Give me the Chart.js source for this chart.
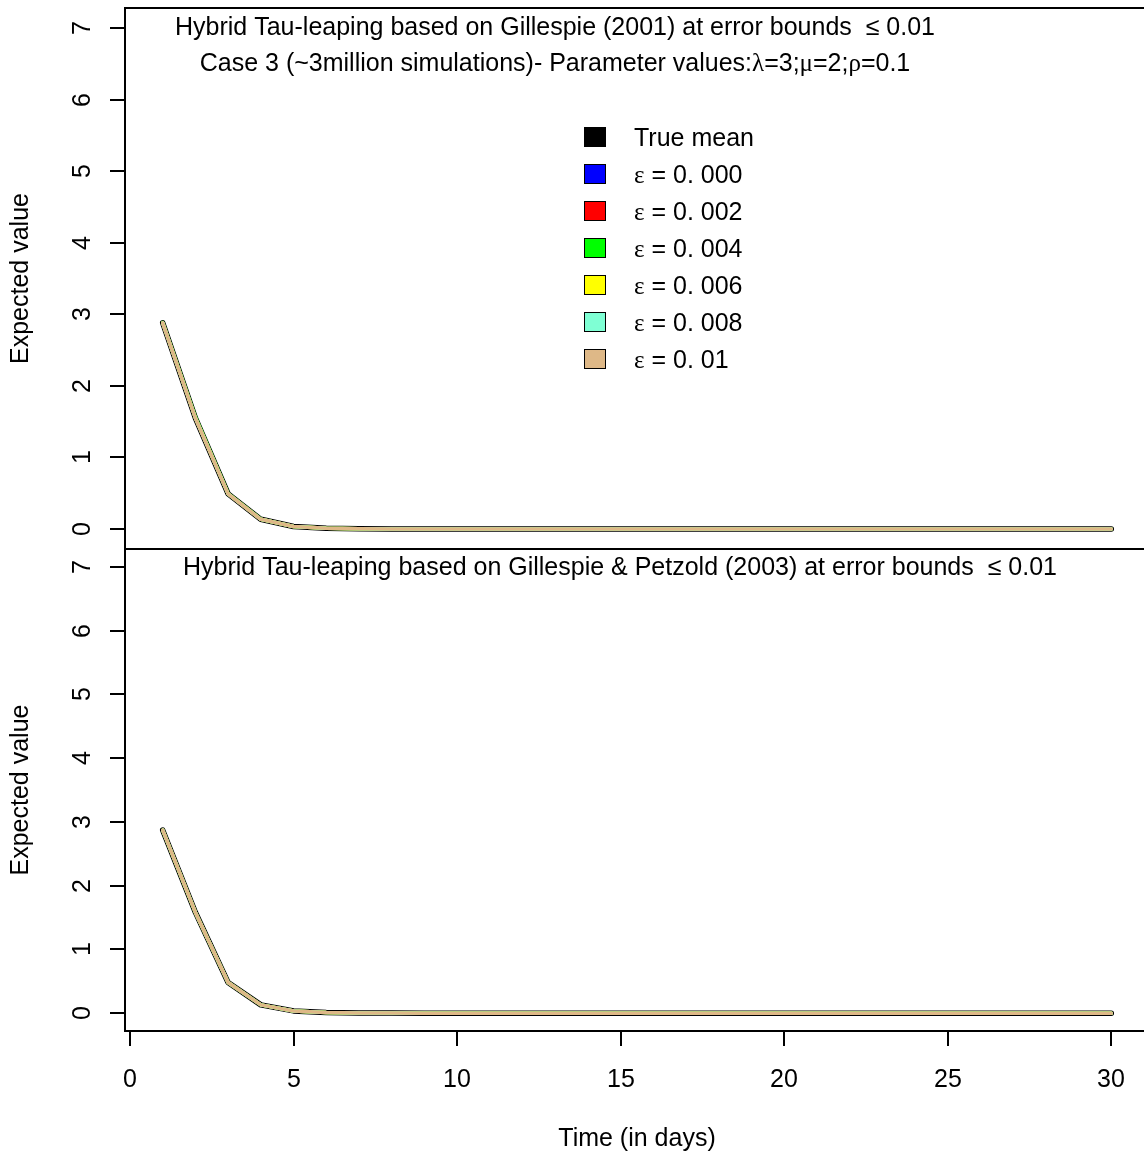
<!DOCTYPE html>
<html>
<head>
<meta charset="utf-8">
<script src="https://cdn.jsdelivr.net/npm/chart.js@4.4.0/dist/chart.umd.min.js"></script>
<style>
body { margin: 0; background: #fff; }
#wrap { position: relative; width: 1144px; height: 1155px; }
canvas { position: absolute; left: 0; }
</style>
</head>
<body>
<div id="wrap">
  <canvas id="topChart" width="1144" height="550" style="top:0px"></canvas>
  <canvas id="bottomChart" width="1144" height="606" style="top:549px"></canvas>
</div>
<script>
// time axis (days)
var days = [1,2,3,4,5,6,7,8,9,10,11,12,13,14,15,16,17,18,19,20,21,22,23,24,25,26,27,28,29,30];
var xTicks = [0,5,10,15,20,25,30];
var yTicks = [0,1,2,3,4,5,6,7];

var seriesNames = ["True mean","ε = 0. 000","ε = 0. 002","ε = 0. 004","ε = 0. 006","ε = 0. 008","ε = 0. 01"];
var seriesColors = ["#000000","#0000FF","#FF0000","#00FF00","#FFFF00","#7FFFD4","#DEB887"];

// Gillespie (2001) panel
var g01_true = [2.88,1.55,0.49,0.135,0.035,0.009,0.002,0.0005,0.0001,0,0,0,0,0,0,0,0,0,0,0,0,0,0,0,0,0,0,0,0,0];
var g01_e000 = [2.88,1.55,0.49,0.135,0.035,0.009,0.002,0.0005,0.0001,0,0,0,0,0,0,0,0,0,0,0,0,0,0,0,0,0,0,0,0,0];
var g01_e002 = [2.88,1.55,0.49,0.135,0.035,0.009,0.002,0.0005,0.0001,0,0,0,0,0,0,0,0,0,0,0,0,0,0,0,0,0,0,0,0,0];
var g01_e004 = [2.885,1.565,0.495,0.136,0.035,0.009,0.002,0.0005,0.0001,0,0,0,0,0,0,0,0,0,0,0,0,0,0,0,0,0,0,0,0,0];
var g01_e006 = [2.88,1.55,0.49,0.135,0.035,0.009,0.002,0.0005,0.0001,0,0,0,0,0,0,0,0,0,0,0,0,0,0,0,0,0,0,0,0,0];
var g01_e008 = [2.88,1.55,0.49,0.135,0.035,0.009,0.002,0.0005,0.0001,0,0,0,0,0,0,0,0,0,0,0,0,0,0,0,0,0,0,0,0,0];
var g01_e010 = [2.88,1.55,0.49,0.135,0.035,0.009,0.002,0.0005,0.0001,0,0,0,0,0,0,0,0,0,0,0,0,0,0,0,0,0,0,0,0,0];

// Gillespie & Petzold (2003) panel
var g03_true = [2.87,1.58,0.48,0.13,0.035,0.01,0.003,0.0008,0.0002,0,0,0,0,0,0,0,0,0,0,0,0,0,0,0,0,0,0,0,0,0];
var g03_e000 = [2.87,1.58,0.48,0.13,0.035,0.01,0.003,0.0008,0.0002,0,0,0,0,0,0,0,0,0,0,0,0,0,0,0,0,0,0,0,0,0];
var g03_e002 = [2.87,1.58,0.48,0.13,0.035,0.01,0.003,0.0008,0.0002,0,0,0,0,0,0,0,0,0,0,0,0,0,0,0,0,0,0,0,0,0];
var g03_e004 = [2.87,1.58,0.48,0.13,0.035,0.01,0.003,0.0008,0.0002,0,0,0,0,0,0,0,0,0,0,0,0,0,0,0,0,0,0,0,0,0];
var g03_e006 = [2.87,1.58,0.48,0.13,0.035,0.01,0.003,0.0008,0.0002,0,0,0,0,0,0,0,0,0,0,0,0,0,0,0,0,0,0,0,0,0];
var g03_e008 = [2.87,1.58,0.48,0.13,0.035,0.01,0.003,0.0008,0.0002,0,0,0,0,0,0,0,0,0,0,0,0,0,0,0,0,0,0,0,0,0];
var g03_e010 = [2.87,1.58,0.48,0.13,0.035,0.01,0.003,0.0008,0.0002,0,0,0,0,0,0,0,0,0,0,0,0,0,0,0,0,0,0,0,0,0];

var SANS = '"Liberation Sans", Arial, sans-serif';
var SERIF = '"Liberation Serif", "DejaVu Serif", serif';

// draw text where greek letters use a serif face (like R's symbol font)
function drawMixed(ctx, text, x, y, align, size) {
  var parts = [];
  for (var i = 0; i < text.length; i++) {
    var ch = text[i];
    var greek = /[\u0370-\u03FF]/.test(ch);
    if (parts.length && parts[parts.length - 1].greek === greek) parts[parts.length - 1].t += ch;
    else parts.push({t: ch, greek: greek});
  }
  var total = 0;
  parts.forEach(function(p) {
    ctx.font = size + 'px ' + (p.greek ? SERIF : SANS);
    p.w = ctx.measureText(p.t).width;
    total += p.w;
  });
  var cx = align === 'center' ? x - total / 2 : x;
  ctx.textAlign = 'left';
  ctx.textBaseline = 'middle';
  parts.forEach(function(p) {
    ctx.font = size + 'px ' + (p.greek ? SERIF : SANS);
    ctx.fillText(p.t, cx, y);
    cx += p.w;
  });
}

var rPlot = {
  id: 'rPlot',
  afterDraw: function(chart, args, opts) {
    var ctx = chart.ctx, a = chart.chartArea;
    var xs = chart.scales.x, ys = chart.scales.y;
    ctx.save();
    ctx.strokeStyle = '#000';
    ctx.fillStyle = '#000';
    ctx.lineWidth = 2;
    ctx.strokeRect(a.left, a.top, a.right - a.left + 10, a.bottom - a.top);

    // y axis
    ctx.font = '25px ' + SANS;
    yTicks.forEach(function(v) {
      var py = Math.round(ys.getPixelForValue(v));
      ctx.beginPath(); ctx.moveTo(a.left - 15, py); ctx.lineTo(a.left, py); ctx.stroke();
      ctx.save();
      ctx.translate(83, py);
      ctx.rotate(-Math.PI / 2);
      ctx.textAlign = 'center'; ctx.textBaseline = 'middle';
      ctx.fillText(String(v), 0, 0);
      ctx.restore();
    });
    ctx.save();
    ctx.translate(21, (a.top + a.bottom) / 2);
    ctx.rotate(-Math.PI / 2);
    ctx.textAlign = 'center'; ctx.textBaseline = 'middle';
    ctx.fillText('Expected value', 0, 0);
    ctx.restore();

    // x axis only under the lower panel
    if (opts.xAxis) {
      ctx.beginPath();
      ctx.moveTo(xs.getPixelForValue(0), a.bottom); ctx.lineTo(xs.getPixelForValue(30), a.bottom); ctx.stroke();
      xTicks.forEach(function(v) {
        var px = Math.round(xs.getPixelForValue(v));
        ctx.beginPath(); ctx.moveTo(px, a.bottom); ctx.lineTo(px, a.bottom + 15); ctx.stroke();
        ctx.textAlign = 'center'; ctx.textBaseline = 'middle';
        ctx.fillText(String(v), px, a.bottom + 49);
      });
      ctx.fillText('Time (in days)', 637, a.bottom + 108);
    }

    // titles
    opts.titles.forEach(function(t) {
      drawMixed(ctx, t.text, t.x, t.y, 'center', 25);
    });

    // legend
    if (opts.legend) {
      chart.data.datasets.forEach(function(ds, i) {
        var cy = 137 + 37 * i;
        ctx.fillStyle = ds.borderColor;
        ctx.fillRect(584, cy - 10, 22, 20);
        ctx.lineWidth = 1;
        ctx.strokeStyle = '#000';
        ctx.strokeRect(584.5, cy - 9.5, 21, 19);
        ctx.fillStyle = '#000';
        drawMixed(ctx, ds.label, 634, cy + 2, 'left', 25);
      });
    }
    ctx.restore();
  }
};

function makeChart(id, seriesList, pad, opts) {
  var datasets = seriesList.map(function(vals, i) {
    return {
      label: seriesNames[i],
      data: days.map(function(d, k) { return {x: d, y: vals[k]}; }),
      borderColor: seriesColors[i],
      backgroundColor: seriesColors[i],
      borderWidth: i === 0 ? 5.5 : 3.5,
      borderCapStyle: 'round',
      borderJoinStyle: 'round',
      pointRadius: 0,
      tension: 0,
      fill: false,
      order: seriesList.length - i
    };
  });
  return new Chart(document.getElementById(id).getContext('2d'), {
    type: 'line',
    data: {datasets: datasets},
    options: {
      responsive: false,
      animation: false,
      layout: {padding: pad},
      scales: {
        x: {type: 'linear', min: -0.153, max: 31.0, display: false},
        y: {type: 'linear', min: -0.28, max: 7.28, display: false}
      },
      plugins: {
        legend: {display: false},
        tooltip: {enabled: false},
        rPlot: opts
      }
    },
    plugins: [rPlot]
  });
}

makeChart('topChart',
  [g01_true, g01_e000, g01_e002, g01_e004, g01_e006, g01_e008, g01_e010],
  {left: 125, top: 8, right: 0, bottom: 1},
  {
    legend: true, xAxis: false,
    titles: [
      {text: 'Hybrid Tau-leaping based on Gillespie (2001) at error bounds  \u2264 0.01', x: 555, y: 28},
      {text: 'Case 3 (~3million simulations)- Parameter values:λ=3;μ=2;ρ=0.1', x: 555, y: 64}
    ]
  });

makeChart('bottomChart',
  [g03_true, g03_e000, g03_e002, g03_e004, g03_e006, g03_e008, g03_e010],
  {left: 125, top: 0, right: 0, bottom: 124},
  {
    legend: false, xAxis: true,
    titles: [
      {text: 'Hybrid Tau-leaping based on Gillespie & Petzold (2003) at error bounds  \u2264 0.01', x: 620, y: 19}
    ]
  });
</script>
</body>
</html>
